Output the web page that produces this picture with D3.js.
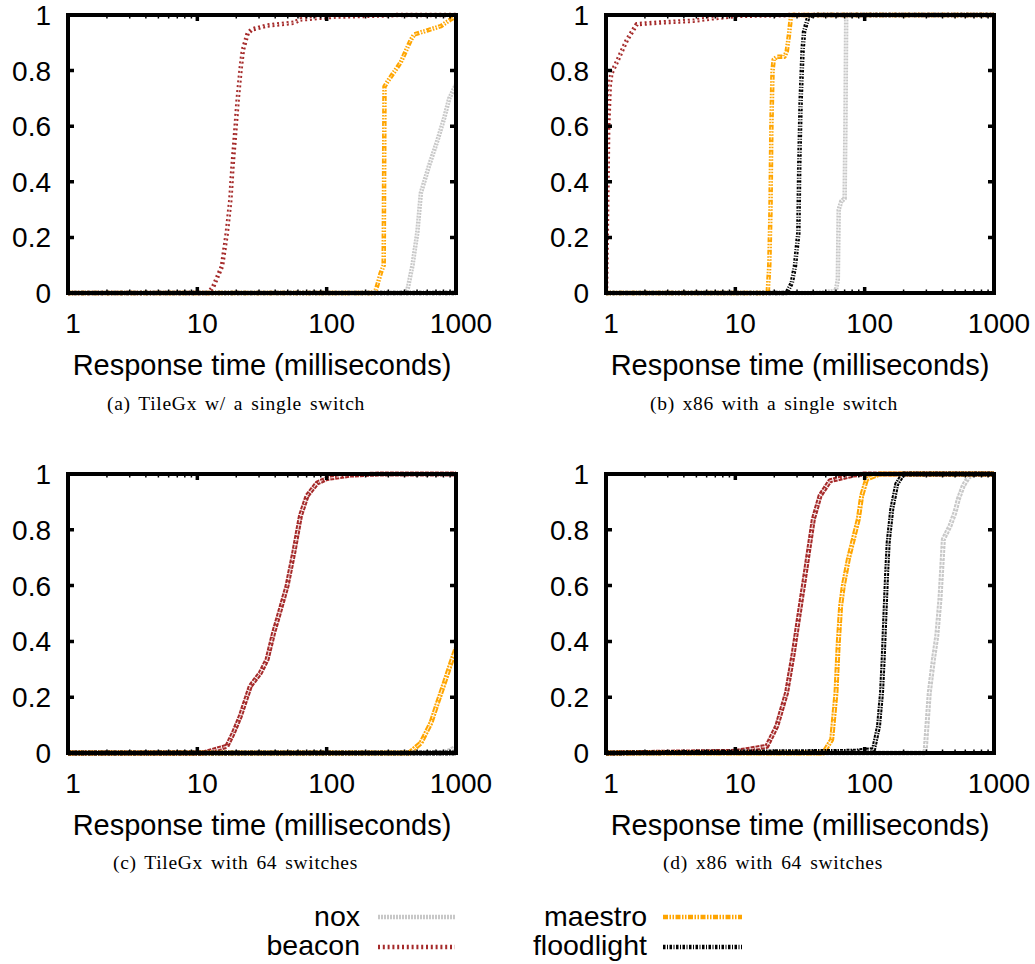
<!DOCTYPE html>
<html><head><meta charset="utf-8">
<script src="https://cdn.jsdelivr.net/npm/d3@7"></script>
<style>body{margin:0;background:#fff}</style>
</head><body><svg id="c" width="1035" height="964"></svg>
<script>
// ---- tick labels / categories ----
const xTickValues = [1, 10, 100, 1000];
const xTickLabels = ["1", "10", "100", "1000"];
const yTickValues = [0, 0.2, 0.4, 0.6, 0.8, 1];
const yTickLabels = ["0", "0.2", "0.4", "0.6", "0.8", "1"];
const seriesNames = ["nox", "beacon", "maestro", "floodlight"];
const captions = ["(a) TileGx w/ a single switch", "(b) x86 with a single switch", "(c) TileGx with 64 switches", "(d) x86 with 64 switches"];
const axisTitle = "Response time (milliseconds)";

// ---- panel (a): TileGx, single switch  [ms, CDF] ----
const aNox = [[1,0],[400,0],[421,0.01],[461,0.1],[503,0.22],[535,0.36],[568,0.40],[621,0.46],[720,0.55],[811,0.63],[887,0.70],[1000,0.75]];
const aBeacon = [[1,0],[12.2,0],[13.3,0.024],[15.5,0.096],[16.9,0.216],[18.0,0.335],[18.7,0.455],[19.6,0.575],[20.5,0.695],[21.7,0.814],[22.5,0.874],[24.5,0.934],[26.4,0.948],[34.6,0.962],[55.7,0.972],[62.7,0.984],[113.7,0.994],[206,0.997],[370,1],[1000,1]];
const aMaestro = [[1,0],[235,0],[245,0.024],[262,0.072],[276,0.1],[278,0.4],[280,0.742],[295,0.76],[374,0.83],[447,0.91],[475,0.93],[602,0.945],[764,0.96],[915,0.985],[1000,0.995]];
const aFloodlight = [[1,0],[1000,0]];

// ---- panel (b): x86, single switch ----
const bNox = [[1,0],[40,0],[55,0.005],[60,0.01],[62,0.05],[63,0.3],[66,0.33],[70,0.34],[71,0.6],[72,1.0],[1000,1]];
const bBeacon = [[1,0],[1.02,0.3],[1.04,0.6],[1.07,0.75],[1.1,0.79],[1.21,0.83],[1.45,0.91],[1.73,0.967],[2.6,0.973],[4.7,0.979],[6.3,0.987],[10.3,0.997],[30,1],[1000,1]];
const bMaestro = [[1,0],[17.8,0],[18.3,0.1],[18.7,0.3],[19.0,0.6],[19.4,0.8],[19.8,0.84],[21,0.85],[24,0.85],[25,0.87],[26,0.93],[27,1.0],[1000,1]];
const bFloodlight = [[1,0],[24.9,0],[27.3,0.036],[28.9,0.096],[30.7,0.216],[31.2,0.455],[32,0.695],[33.1,0.874],[34,0.94],[36.7,0.994],[40,1],[1000,1]];

// ---- panel (c): TileGx, 64 switches ----
const cNox = [[1,0],[800,0],[900,0.01],[1000,0.02]];
const cBeacon = [[1,0],[11.1,0],[16.9,0.024],[19,0.072],[21.5,0.132],[25.7,0.24],[30.7,0.287],[34.6,0.335],[38.9,0.431],[43.9,0.515],[49.4,0.599],[55.7,0.719],[62.7,0.85],[70.6,0.922],[84.5,0.968],[101,0.984],[153,0.996],[250,1],[1000,1]];
const cMaestro = [[1,0],[434,0],[535,0.036],[640,0.108],[720,0.18],[811,0.25],[914,0.323],[1000,0.375]];
const cFloodlight = [[1,0],[1000,0]];

// ---- panel (d): x86, 64 switches ----
const dNox = [[1,0],[293,0],[316,0.216],[340,0.335],[361,0.419],[382,0.551],[394,0.659],[406,0.766],[457,0.814],[499,0.862],[530,0.91],[579,0.958],[634,0.988],[692,1],[1000,1]];
const dBeacon = [[1,0],[10.2,0.006],[17.5,0.024],[20.9,0.096],[24.9,0.216],[28.1,0.359],[30.7,0.479],[33.6,0.599],[36.7,0.719],[40.1,0.838],[45.2,0.922],[54,0.976],[81.7,0.996],[97.7,1],[1000,1]];
const dMaestro = [[1,0],[47.9,0],[55.6,0.048],[60,0.216],[62.5,0.395],[65.2,0.527],[68.4,0.6],[74.8,0.695],[81.7,0.766],[89.3,0.838],[94.8,0.922],[103.6,0.982],[131,1],[1000,1]];
const dFloodlight = [[1,0],[82,0.006],[117,0.012],[128,0.096],[135,0.216],[139,0.335],[144,0.515],[148,0.647],[152,0.754],[162,0.874],[177,0.964],[199,1],[1000,1]];

const panelSeries = [
  [aNox, aBeacon, aMaestro, aFloodlight],
  [bNox, bBeacon, bMaestro, bFloodlight],
  [cNox, cBeacon, cMaestro, cFloodlight],
  [dNox, dBeacon, dMaestro, dFloodlight]
];

// ---- styles ----
const seriesStyle = {
  nox:        {color: "#c8c8c8", dash: "2,1",                   smooth: "3,1"},
  beacon:     {color: "#a52a2a", dash: "2,2.8",                 smooth: "4,1"},
  maestro:    {color: "#ffa500", dash: "5,1.5,1.5,1.5,1.5,1.5", smooth: "6,1,2,1"},
  floodlight: {color: "#000000", dash: "2.5,1.5,1,1.5",         smooth: "3,1,1.5,1"}
};
const panelBoxes = [
  {l: 68,  r: 456, t: 15,  b: 293, cx: 107, cw: 258, cy: 410, smooth: false},
  {l: 606, r: 994, t: 15,  b: 293, cx: 650, cw: 248, cy: 410, smooth: false},
  {l: 68,  r: 456, t: 474, b: 753, cx: 113, cw: 245, cy: 869, smooth: true},
  {l: 606, r: 994, t: 474, b: 753, cx: 663, cw: 220, cy: 869, smooth: true}
];
const sans = "'Liberation Sans', Arial, Helvetica, sans-serif";
const serif = "'Liberation Serif', 'Times New Roman', serif";

const svg = d3.select("#c");
svg.append("rect").attr("width", 1035).attr("height", 964).attr("fill", "#fff");

panelBoxes.forEach((p, i) => {
  const x = d3.scaleLog().domain([1, 1000]).range([p.l, p.r]);
  const y = d3.scaleLinear().domain([0, 1]).range([p.b, p.t]);
  const g = svg.append("g");
  const clipId = "clip" + i;
  g.append("clipPath").attr("id", clipId).append("rect")
    .attr("x", p.l).attr("y", p.t - 3).attr("width", p.r - p.l).attr("height", p.b - p.t + 6);

  const line = d3.line().x(d => x(d[0])).y(d => y(d[1]));
  const lg = g.append("g").attr("clip-path", `url(#${clipId})`);
  panelSeries[i].forEach((data, k) => {
    const st = seriesStyle[seriesNames[k]];
    lg.append("path").datum(data).attr("d", line)
      .attr("fill", "none").attr("stroke", st.color).attr("stroke-width", p.smooth ? 5 : 4.5)
      .attr("stroke-dasharray", p.smooth ? st.smooth : st.dash).attr("stroke-linejoin", "round");
    lg.append("path").datum(data).attr("d", line)
      .attr("fill", "none").attr("stroke", "#fff").attr("stroke-width", p.smooth ? 1.1 : 0.8)
      .attr("stroke-opacity", 0.8).attr("stroke-dasharray", p.smooth ? "5,1.5" : "3,2");
  });

  // minor ticks (log) top & bottom
  const minor = [];
  [1, 10, 100].forEach(dec => { for (let m = 2; m <= 9; m++) minor.push(dec * m); });
  g.selectAll(null).data(minor).enter().append("path")
    .attr("d", d => `M${x(d)},${p.b}v-3.5M${x(d)},${p.t}v3.5`)
    .attr("stroke", "#000").attr("stroke-width", 1.5);
  // major ticks
  g.selectAll(null).data(xTickValues).enter().append("path")
    .attr("d", d => `M${x(d)},${p.b}v-6M${x(d)},${p.t}v6`)
    .attr("stroke", "#000").attr("stroke-width", 3.5);
  g.selectAll(null).data(yTickValues).enter().append("path")
    .attr("d", d => `M${p.l},${y(d)}h6M${p.r},${y(d)}h-6`)
    .attr("stroke", "#000").attr("stroke-width", 3.5);

  // border
  g.append("rect").attr("x", p.l).attr("y", p.t).attr("width", p.r - p.l).attr("height", p.b - p.t)
    .attr("fill", "none").attr("stroke", "#000").attr("stroke-width", 4);

  // tick labels
  g.selectAll(null).data(xTickValues).enter().append("text")
    .attr("x", d => x(d) + 5).attr("y", p.b + 40)
    .attr("text-anchor", "middle").attr("font-family", sans).attr("font-size", 28)
    .text((d, j) => xTickLabels[j]);
  g.selectAll(null).data(yTickValues).enter().append("text")
    .attr("x", p.l - 17).attr("y", d => y(d)).attr("dy", "0.36em")
    .attr("text-anchor", "end").attr("font-family", sans).attr("font-size", 28)
    .text((d, j) => yTickLabels[j]);

  // axis title
  g.append("text").attr("x", (p.l + p.r) / 2).attr("y", p.b + 82)
    .attr("text-anchor", "middle").attr("font-family", sans).attr("font-size", 29)
    .text(axisTitle);

  // caption: slight letter spacing, widened word spacing (LaTeX style)
  const cap = g.append("text").attr("x", p.cx).attr("y", p.cy)
    .attr("font-family", serif).attr("font-size", 19.5).attr("letter-spacing", 0.7)
    .text(captions[i]);
  const natural = cap.node().getComputedTextLength();
  const spaces = (captions[i].match(/ /g) || []).length;
  cap.attr("word-spacing", Math.max(0, (p.cw - natural) / spaces));
});

// legend
const legendPos = [
  {tx: 360, ty: 926, lx1: 378, lx2: 455, ly: 917},
  {tx: 360, ty: 955, lx1: 378, lx2: 455, ly: 947},
  {tx: 647, ty: 926, lx1: 663, lx2: 742, ly: 917},
  {tx: 647, ty: 955, lx1: 663, lx2: 742, ly: 947}
];
const leg = svg.append("g");
seriesNames.forEach((name, k) => {
  const lp = legendPos[k], st = seriesStyle[name];
  leg.append("text").attr("x", lp.tx).attr("y", lp.ty).attr("text-anchor", "end")
    .attr("font-family", sans).attr("font-size", 28.5).text(name);
  leg.append("line").attr("x1", lp.lx1).attr("x2", lp.lx2).attr("y1", lp.ly).attr("y2", lp.ly)
    .attr("stroke", st.color).attr("stroke-width", 4.5).attr("stroke-dasharray", st.dash);
});
</script></body></html>
